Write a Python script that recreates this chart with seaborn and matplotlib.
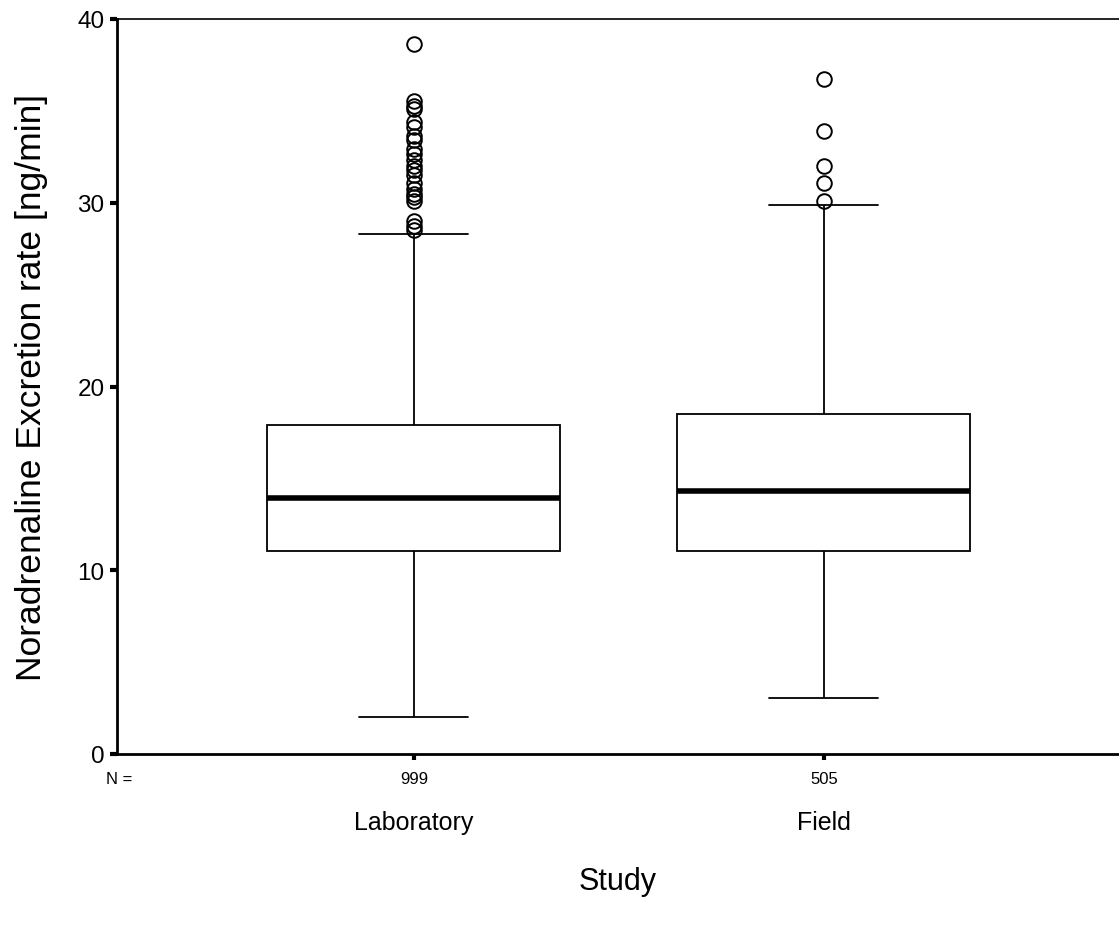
import numpy as np
import pandas as pd
import matplotlib
matplotlib.use("Agg")
import matplotlib.pyplot as plt
import matplotlib.transforms as mtransforms
import seaborn as sns

# ---- data ----
categories = ["Laboratory", "Field"]
n_counts = [999, 505]
# whisker low, Q1, median, Q3, whisker high
lab_stats = [2.0, 11.05, 13.95, 17.9, 28.3]
field_stats = [3.05, 11.05, 14.3, 18.5, 29.9]
lab_outliers = [38.64, 35.55, 35.28, 35.1, 34.38, 34.1, 33.65, 33.4, 32.9, 32.65,
                32.3, 32.0, 31.8, 31.5, 31.1, 30.75, 30.5, 30.3, 30.1, 29.0, 28.75, 28.5]
field_outliers = [36.73, 33.92, 32.0, 31.1, 30.1]


def build(stats, outliers, n):
    """Build a sample of size n whose box-plot statistics equal `stats`."""
    block = (n - 2 - len(outliers)) // 3
    vals = ([stats[0]] + [stats[1]] * block + [stats[2]] * block
            + [stats[3]] * block + [stats[4]] + list(outliers))
    return vals


lab_vals = build(lab_stats, lab_outliers, n_counts[0])
field_vals = build(field_stats, field_outliers, n_counts[1])
df = pd.DataFrame({
    "Study": [categories[0]] * len(lab_vals) + [categories[1]] * len(field_vals),
    "Value": lab_vals + field_vals,
})

sns.set_theme(style="white")
plt.rcParams["font.family"] = ["Liberation Sans", "DejaVu Sans"]

fig = plt.figure(figsize=(11.19, 9.28), dpi=100)
ax = fig.add_axes([117 / 1119, (928 - 755) / 928, 1 - 117 / 1119, (755 - 20) / 928])

sns.boxplot(
    data=df, x="Study", y="Value", order=categories, ax=ax,
    whis=1.54, width=0.715, color="white", linecolor="black", linewidth=1.3,
    capwidths=0.266,
    medianprops=dict(linewidth=4.0, color="black"),
    flierprops=dict(marker="o", markersize=10.5, markerfacecolor="none",
                    markeredgecolor="black", markeredgewidth=1.4),
)

ax.set_xlim(-0.724, 1.72)
ax.set_ylim(0, 40)
ax.set_yticks([0, 10, 20, 30, 40])
ax.set_yticklabels(["0", "10", "20", "30", "40"], fontsize=17.5)
ax.set_xticks([0, 1])
ax.set_xticklabels([str(n) for n in n_counts], fontsize=12)

ax.tick_params(axis="y", direction="out", length=5, width=3, pad=4, left=True, colors="black")
ax.tick_params(axis="x", direction="out", length=4, width=3, pad=8, bottom=True, colors="black")

ax.spines["right"].set_visible(False)
ax.spines["top"].set_linewidth(1.2)
ax.spines["left"].set_linewidth(2)
ax.spines["bottom"].set_linewidth(2)
for s in ax.spines.values():
    s.set_color("black")

trans = mtransforms.blended_transform_factory(ax.transData, ax.transAxes)
for i, c in enumerate(categories):
    ax.text(i, -0.092, c, transform=trans, ha="center", va="center", fontsize=18, color="black")
ax.text(-0.011, -0.033, "N =", transform=ax.transAxes, ha="left", va="center",
        fontsize=12, color="black")

ax.set_xlabel("Study", fontsize=22, color="black", labelpad=58)
ax.set_ylabel("Noradrenaline Excretion rate [ng/min]", fontsize=25.5, color="black")
ax.yaxis.set_label_coords(-0.069, 0.5)

fig.savefig("out.png", dpi=100)
